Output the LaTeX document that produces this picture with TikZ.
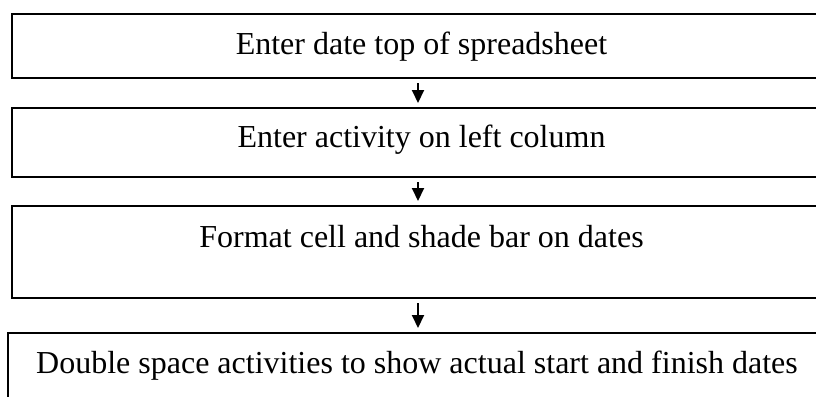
\documentclass[tikz,border=0pt]{standalone}
\usepackage{fontspec}
\setmainfont{Liberation Serif}
\usetikzlibrary{arrows.meta}
\tikzset{
  stepbox/.style={draw, line width=2pt, rectangle, inner sep=0pt},
  steptext/.style={anchor=base, inner sep=0pt, font=\fontsize{32}{38}\selectfont},
  flowarrow/.style={line width=2pt, -{Triangle[length=13pt,width=12pt]}, shorten <=4pt, shorten >=4pt},
}
\begin{document}
\begin{tikzpicture}[x=1pt, y=-1pt]
  \useasboundingbox (0,0) rectangle (816,396);
  \clip (0,0) rectangle (816,396);
  % boxes (they run past the right edge of the page)
  \node[stepbox, minimum width=812pt, minimum height=64pt] (b1) at (418,46) {};
  \node[stepbox, minimum width=812pt, minimum height=69pt] (b2) at (418,142.5) {};
  \node[stepbox, minimum width=812pt, minimum height=92pt] (b3) at (418,252) {};
  \node[stepbox, minimum width=820pt, minimum height=90pt] (b4) at (418,378) {};
  % step captions
  \node[steptext] (t1) at (421.5,55) {Enter date top of spreadsheet};
  \node[steptext] (t2) at (421.5,147) {Enter activity on left column};
  \node[steptext] (t3) at (421.5,247) {Format cell and shade bar on dates};
  \node[steptext] (t4) at (417,373) {Double space activities to show actual start and finish dates};
  % connectors
  \draw[flowarrow] (b1.south) -- (b2.north);
  \draw[flowarrow] (b2.south) -- (b3.north);
  \draw[flowarrow] (b3.south) -- (b4.north);
\end{tikzpicture}
\end{document}
